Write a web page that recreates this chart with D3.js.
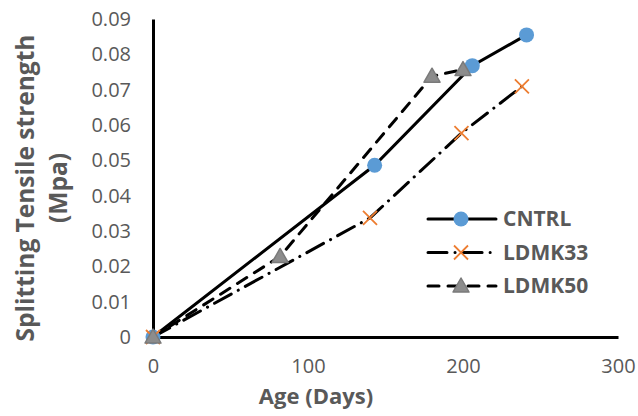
<!DOCTYPE html>
<html>
<head>
<meta charset="utf-8">
<script src="https://cdn.jsdelivr.net/npm/d3@7"></script>
<style>
  body { margin: 0; background: #fff; }
  text { font-family: "Open Sans", sans-serif; }
</style>
</head>
<body>
<div id="chart-area"></div>
<script>
// splitting tensile strength vs age, three mixes
const seriesNames = ["CNTRL", "LDMK33", "LDMK50"]
const cntrlDays = [0, 143, 206, 241]
const cntrlValues = [0, 0.0486, 0.0768, 0.0855]
const ldmk33Days = [0, 140, 199, 238]
const ldmk33Values = [0, 0.0337, 0.0577, 0.0709]
const ldmk50Days = [0, 82, 180, 200]
const ldmk50Values = [0, 0.0228, 0.0738, 0.0757]
const xTicks = [0, 100, 200, 300]
const yTicks = [0, 0.01, 0.02, 0.03, 0.04, 0.05, 0.06, 0.07, 0.08, 0.09]

const W = 638
const H = 416
const MARGIN = { LEFT: 153, RIGHT: 20, TOP: 19, BOTTOM: 79 }

const svg = d3.select("#chart-area").append("svg")
  .attr("width", W)
  .attr("height", H)

const x = d3.scaleLinear().domain([0, 300]).range([MARGIN.LEFT, W - MARGIN.RIGHT])
const y = d3.scaleLinear().domain([0, 0.09]).range([H - MARGIN.BOTTOM, MARGIN.TOP])

const zip = (days, vals) => days.map((d, i) => ({ day: d, val: vals[i] }))
const series = [
  { name: seriesNames[0], data: zip(cntrlDays, cntrlValues), dash: null, marker: "circle" },
  { name: seriesNames[1], data: zip(ldmk33Days, ldmk33Values), dash: "19,8,0.1,8", marker: "x" },
  { name: seriesNames[2], data: zip(ldmk50Days, ldmk50Values), dash: "11,9", marker: "triangle" }
]

// axes, no tick marks, grey labels
const xAxis = svg.append("g")
  .attr("transform", `translate(0, ${y(0)})`)
  .call(d3.axisBottom(x).tickValues(xTicks).tickSize(0).tickPadding(22))
const yAxis = svg.append("g")
  .attr("transform", `translate(${x(0)}, 0)`)
  .call(d3.axisLeft(y).tickValues(yTicks).tickSize(0).tickPadding(22)
    .tickFormat(d => d === 0 ? "0" : d3.format(".2f")(d)))

for (const ax of [xAxis, yAxis]) {
  ax.select(".domain").attr("stroke", "#000").attr("stroke-width", 3)
  ax.selectAll("text")
    .attr("font-size", "20px")
    .attr("fill", "#595959")
    .style("font-family", "'Open Sans', sans-serif")
}

// axis titles
svg.append("text")
  .attr("x", 316)
  .attr("y", 404)
  .attr("text-anchor", "middle")
  .attr("font-size", "22px")
  .attr("font-weight", "bold")
  .attr("fill", "#595959")
  .text("Age (Days)")

const yTitle = svg.append("text")
  .attr("transform", "translate(0, 188) rotate(-90)")
  .attr("text-anchor", "middle")
  .attr("font-size", "24.5px")
  .attr("font-weight", "bold")
  .attr("fill", "#595959")
yTitle.append("tspan").attr("x", 0).attr("y", 34).text("Splitting Tensile strength")
yTitle.append("tspan").attr("x", 0).attr("y", 67).text("(Mpa)")

const line = d3.line().x(d => x(d.day)).y(d => y(d.val))

function drawMarker(sel, type, cx, cy) {
  if (type === "circle") {
    sel.append("circle").attr("cx", cx).attr("cy", cy).attr("r", 7.5).attr("fill", "#5B9BD5")
  } else if (type === "x") {
    const s = 7
    sel.append("path")
      .attr("d", `M${cx - s},${cy - s}L${cx + s},${cy + s}M${cx - s},${cy + s}L${cx + s},${cy - s}`)
      .attr("stroke", "#ED7D31").attr("stroke-width", 1.8).attr("fill", "none")
  } else {
    const s = 8
    sel.append("path")
      .attr("d", `M${cx},${cy - s}L${cx + s},${cy + s * 0.75}L${cx - s},${cy + s * 0.75}Z`)
      .attr("fill", "#8C8C8C").attr("stroke", "#7A7A7A").attr("stroke-width", 1.5)
      .attr("stroke-linejoin", "round")
  }
}

// lines first, markers on top
series.forEach(s => {
  svg.append("path")
    .datum(s.data)
    .attr("d", line)
    .attr("fill", "none")
    .attr("stroke", "#000")
    .attr("stroke-width", 3)
    .attr("stroke-linecap", "round")
    .attr("stroke-dasharray", s.dash)
})

const markers = svg.append("g")
series.forEach(s => {
  s.data.forEach(d => drawMarker(markers, s.marker, x(d.day), y(d.val)))
})

// legend
const legend = svg.append("g")
series.forEach((s, i) => {
  const ly = 219 + i * 33.5
  legend.append("line")
    .attr("x1", 428).attr("x2", 496)
    .attr("y1", ly).attr("y2", ly)
    .attr("stroke", "#000")
    .attr("stroke-width", 3)
    .attr("stroke-linecap", "round")
    .attr("stroke-dasharray", s.dash)
  drawMarker(legend, s.marker, 461, ly)
  legend.append("text")
    .attr("x", 503)
    .attr("y", ly)
    .attr("dy", "0.35em")
    .attr("font-size", "21px")
    .attr("font-weight", "bold")
    .attr("fill", "#595959")
    .text(s.name)
})
</script>
</body>
</html>
